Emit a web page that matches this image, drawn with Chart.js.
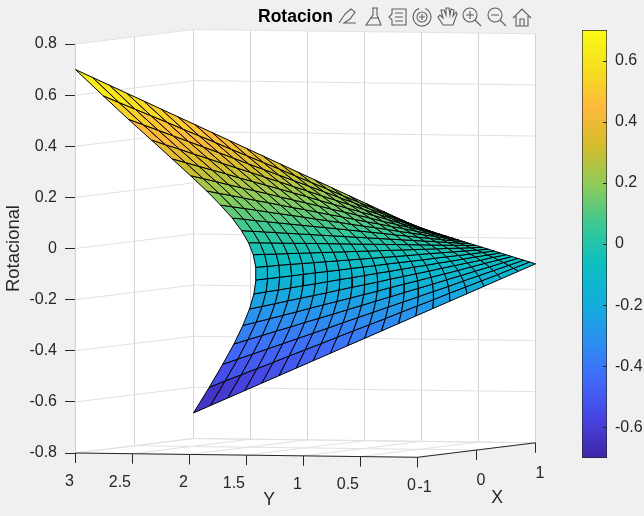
<!DOCTYPE html>
<html>
<head>
<meta charset="utf-8">
<script src="https://cdn.jsdelivr.net/npm/chart.js@4"></script>
<style>
  html, body { margin: 0; padding: 0; background: #f0f0f0; width: 644px; height: 516px; overflow: hidden; }
  canvas { position: absolute; top: 0; }
  #surf { left: 0; }
  #cbar { left: 560px; }
</style>
</head>
<body>
<canvas id="surf" width="644" height="516"></canvas>
<canvas id="cbar" width="84" height="516"></canvas>
<script>
const zTicks = [-0.8, -0.6, -0.4, -0.2, 0, 0.2, 0.4, 0.6, 0.8];
const xTicks = [-1, 0, 1];
const yTicks = [3, 2.5, 2, 1.5, 1, 0.5, 0];
const cbTicks = [-0.6, -0.4, -0.2, 0, 0.2, 0.4, 0.6];
const parula = ['#3e26a8', '#4743e0', '#4169fb', '#2c8ff0', '#12aedb', '#0cbfc0', '#3cc894', '#8ccb5a', '#d3bd2e', '#feb93c', '#f5de1f', '#f9fb15'];

// surface nodes, one list per X value
const xVals = [-1, -0.9, -0.8, -0.7, -0.6, -0.5, -0.4, -0.3, -0.2, -0.1, 0, 0.1, 0.2, 0.3, 0.4, 0.5, 0.6, 0.7, 0.8, 0.9, 1];
const ySurf = [
  [0, 0.15, 0.3, 0.45, 0.6, 0.75, 0.9, 1.05, 1.2, 1.35, 1.5, 1.65, 1.8, 1.95, 2.1, 2.25, 2.4, 2.55, 2.7, 2.85, 3],
  [0, 0.141, 0.281, 0.422, 0.562, 0.703, 0.843, 0.984, 1.124, 1.265, 1.405, 1.546, 1.686, 1.827, 1.967, 2.108, 2.248, 2.389, 2.529, 2.67, 2.81],
  [0, 0.132, 0.264, 0.396, 0.528, 0.66, 0.792, 0.924, 1.056, 1.188, 1.32, 1.452, 1.584, 1.716, 1.848, 1.98, 2.112, 2.244, 2.376, 2.508, 2.64],
  [0, 0.125, 0.249, 0.374, 0.498, 0.623, 0.747, 0.872, 0.996, 1.121, 1.245, 1.37, 1.494, 1.619, 1.743, 1.868, 1.992, 2.117, 2.241, 2.366, 2.49],
  [0, 0.118, 0.236, 0.354, 0.472, 0.59, 0.708, 0.826, 0.944, 1.062, 1.18, 1.298, 1.416, 1.534, 1.652, 1.77, 1.888, 2.006, 2.124, 2.242, 2.36],
  [0, 0.113, 0.225, 0.338, 0.45, 0.563, 0.675, 0.788, 0.9, 1.013, 1.125, 1.238, 1.35, 1.463, 1.575, 1.688, 1.8, 1.913, 2.025, 2.138, 2.25],
  [0, 0.108, 0.216, 0.324, 0.432, 0.54, 0.648, 0.756, 0.864, 0.972, 1.08, 1.188, 1.296, 1.404, 1.512, 1.62, 1.728, 1.836, 1.944, 2.052, 2.16],
  [0, 0.105, 0.209, 0.314, 0.418, 0.523, 0.627, 0.732, 0.836, 0.941, 1.045, 1.15, 1.254, 1.359, 1.463, 1.568, 1.672, 1.777, 1.881, 1.986, 2.09],
  [0, 0.102, 0.204, 0.306, 0.408, 0.51, 0.612, 0.714, 0.816, 0.918, 1.02, 1.122, 1.224, 1.326, 1.428, 1.53, 1.632, 1.734, 1.836, 1.938, 2.04],
  [0, 0.101, 0.201, 0.302, 0.402, 0.503, 0.603, 0.704, 0.804, 0.905, 1.005, 1.106, 1.206, 1.307, 1.407, 1.508, 1.608, 1.709, 1.809, 1.91, 2.01],
  [0, 0.1, 0.2, 0.3, 0.4, 0.5, 0.6, 0.7, 0.8, 0.9, 1, 1.1, 1.2, 1.3, 1.4, 1.5, 1.6, 1.7, 1.8, 1.9, 2],
  [0, 0.101, 0.201, 0.302, 0.402, 0.503, 0.603, 0.704, 0.804, 0.905, 1.005, 1.106, 1.206, 1.307, 1.407, 1.508, 1.608, 1.709, 1.809, 1.91, 2.01],
  [0, 0.102, 0.204, 0.306, 0.408, 0.51, 0.612, 0.714, 0.816, 0.918, 1.02, 1.122, 1.224, 1.326, 1.428, 1.53, 1.632, 1.734, 1.836, 1.938, 2.04],
  [0, 0.105, 0.209, 0.314, 0.418, 0.523, 0.627, 0.732, 0.836, 0.941, 1.045, 1.15, 1.254, 1.359, 1.463, 1.568, 1.672, 1.777, 1.881, 1.986, 2.09],
  [0, 0.108, 0.216, 0.324, 0.432, 0.54, 0.648, 0.756, 0.864, 0.972, 1.08, 1.188, 1.296, 1.404, 1.512, 1.62, 1.728, 1.836, 1.944, 2.052, 2.16],
  [0, 0.113, 0.225, 0.338, 0.45, 0.563, 0.675, 0.788, 0.9, 1.013, 1.125, 1.238, 1.35, 1.463, 1.575, 1.688, 1.8, 1.913, 2.025, 2.138, 2.25],
  [0, 0.118, 0.236, 0.354, 0.472, 0.59, 0.708, 0.826, 0.944, 1.062, 1.18, 1.298, 1.416, 1.534, 1.652, 1.77, 1.888, 2.006, 2.124, 2.242, 2.36],
  [0, 0.125, 0.249, 0.374, 0.498, 0.623, 0.747, 0.872, 0.996, 1.121, 1.245, 1.37, 1.494, 1.619, 1.743, 1.868, 1.992, 2.117, 2.241, 2.366, 2.49],
  [0, 0.132, 0.264, 0.396, 0.528, 0.66, 0.792, 0.924, 1.056, 1.188, 1.32, 1.452, 1.584, 1.716, 1.848, 1.98, 2.112, 2.244, 2.376, 2.508, 2.64],
  [0, 0.141, 0.281, 0.422, 0.562, 0.703, 0.843, 0.984, 1.124, 1.265, 1.405, 1.546, 1.686, 1.827, 1.967, 2.108, 2.248, 2.389, 2.529, 2.67, 2.81],
  [0, 0.15, 0.3, 0.45, 0.6, 0.75, 0.9, 1.05, 1.2, 1.35, 1.5, 1.65, 1.8, 1.95, 2.1, 2.25, 2.4, 2.55, 2.7, 2.85, 3]
];
const zSurf = [
  [0.1, 0.13, 0.16, 0.19, 0.22, 0.25, 0.28, 0.31, 0.34, 0.37, 0.4, 0.43, 0.46, 0.49, 0.52, 0.55, 0.58, 0.61, 0.64, 0.67, 0.7],
  [0.09, 0.115, 0.141, 0.166, 0.191, 0.216, 0.242, 0.267, 0.292, 0.318, 0.343, 0.368, 0.393, 0.419, 0.444, 0.469, 0.495, 0.52, 0.545, 0.57, 0.596],
  [0.08, 0.101, 0.122, 0.143, 0.164, 0.186, 0.207, 0.228, 0.249, 0.27, 0.291, 0.312, 0.333, 0.355, 0.376, 0.397, 0.418, 0.439, 0.46, 0.481, 0.502],
  [0.07, 0.087, 0.105, 0.122, 0.14, 0.157, 0.175, 0.192, 0.209, 0.227, 0.244, 0.262, 0.279, 0.297, 0.314, 0.331, 0.349, 0.366, 0.384, 0.401, 0.419],
  [0.06, 0.074, 0.088, 0.102, 0.117, 0.131, 0.145, 0.159, 0.173, 0.187, 0.202, 0.216, 0.23, 0.244, 0.258, 0.272, 0.287, 0.301, 0.315, 0.329, 0.343],
  [0.05, 0.061, 0.073, 0.084, 0.095, 0.106, 0.118, 0.129, 0.14, 0.151, 0.163, 0.174, 0.185, 0.196, 0.208, 0.219, 0.23, 0.241, 0.253, 0.264, 0.275],
  [0.04, 0.049, 0.057, 0.066, 0.075, 0.083, 0.092, 0.1, 0.109, 0.118, 0.126, 0.135, 0.144, 0.152, 0.161, 0.17, 0.178, 0.187, 0.196, 0.204, 0.213],
  [0.03, 0.036, 0.043, 0.049, 0.055, 0.061, 0.068, 0.074, 0.08, 0.086, 0.093, 0.099, 0.105, 0.112, 0.118, 0.124, 0.13, 0.137, 0.143, 0.149, 0.155],
  [0.02, 0.024, 0.028, 0.032, 0.036, 0.04, 0.044, 0.049, 0.053, 0.057, 0.061, 0.065, 0.069, 0.073, 0.077, 0.081, 0.085, 0.089, 0.093, 0.098, 0.102],
  [0.01, 0.012, 0.014, 0.016, 0.018, 0.02, 0.022, 0.024, 0.026, 0.028, 0.03, 0.032, 0.034, 0.036, 0.038, 0.04, 0.042, 0.044, 0.046, 0.048, 0.05],
  [0, 0, 0, 0, 0, 0, 0, 0, 0, 0, 0, 0, 0, 0, 0, 0, 0, 0, 0, 0, 0],
  [-0.01, -0.012, -0.014, -0.016, -0.018, -0.02, -0.022, -0.024, -0.026, -0.028, -0.03, -0.032, -0.034, -0.036, -0.038, -0.04, -0.042, -0.044, -0.046, -0.048, -0.05],
  [-0.02, -0.024, -0.028, -0.032, -0.036, -0.04, -0.044, -0.049, -0.053, -0.057, -0.061, -0.065, -0.069, -0.073, -0.077, -0.081, -0.085, -0.089, -0.093, -0.098, -0.102],
  [-0.03, -0.036, -0.043, -0.049, -0.055, -0.061, -0.068, -0.074, -0.08, -0.086, -0.093, -0.099, -0.105, -0.112, -0.118, -0.124, -0.13, -0.137, -0.143, -0.149, -0.155],
  [-0.04, -0.049, -0.057, -0.066, -0.075, -0.083, -0.092, -0.1, -0.109, -0.118, -0.126, -0.135, -0.144, -0.152, -0.161, -0.17, -0.178, -0.187, -0.196, -0.204, -0.213],
  [-0.05, -0.061, -0.073, -0.084, -0.095, -0.106, -0.118, -0.129, -0.14, -0.151, -0.163, -0.174, -0.185, -0.196, -0.208, -0.219, -0.23, -0.241, -0.253, -0.264, -0.275],
  [-0.06, -0.074, -0.088, -0.102, -0.117, -0.131, -0.145, -0.159, -0.173, -0.187, -0.202, -0.216, -0.23, -0.244, -0.258, -0.272, -0.287, -0.301, -0.315, -0.329, -0.343],
  [-0.07, -0.087, -0.105, -0.122, -0.14, -0.157, -0.175, -0.192, -0.209, -0.227, -0.244, -0.262, -0.279, -0.297, -0.314, -0.331, -0.349, -0.366, -0.384, -0.401, -0.419],
  [-0.08, -0.101, -0.122, -0.143, -0.164, -0.186, -0.207, -0.228, -0.249, -0.27, -0.291, -0.312, -0.333, -0.355, -0.376, -0.397, -0.418, -0.439, -0.46, -0.481, -0.502],
  [-0.09, -0.115, -0.141, -0.166, -0.191, -0.216, -0.242, -0.267, -0.292, -0.318, -0.343, -0.368, -0.393, -0.419, -0.444, -0.469, -0.495, -0.52, -0.545, -0.57, -0.596],
  [-0.1, -0.13, -0.16, -0.19, -0.22, -0.25, -0.28, -0.31, -0.34, -0.37, -0.4, -0.43, -0.46, -0.49, -0.52, -0.55, -0.58, -0.61, -0.64, -0.67, -0.7]
];

const FONT = '"Liberation Sans", Arial, sans-serif';
const INK = '#262626';
const GRID = '#e2e2e2';
const GRID_V = '#d2d2d2';

// camera: how far one unit of Y or X moves a point on the flat chart scales
const HY = 114, HX = 59, VY = -0.0056, VX = 0.02837;
const proj = (x, y, z) => ({ x: HY * (3 - y) + HX * (x + 1), y: z + VY * (3 - y) + VX * (x + 1) });

function parulaColor(z) {
  const f = Math.max(0, Math.min(1, (z + 0.7) / 1.4)) * (parula.length - 1);
  const i = Math.min(parula.length - 2, Math.floor(f));
  const a = parseInt(parula[i].slice(1), 16), b = parseInt(parula[i + 1].slice(1), 16), t = f - i;
  const c = s => Math.round(((a >> s) & 255) * (1 - t) + ((b >> s) & 255) * t);
  return `rgb(${c(16)},${c(8)},${c(0)})`;
}

const line = (data, color, w) => ({ data, borderColor: color, borderWidth: w, pointRadius: 0, showLine: true, fill: false, clip: false, tension: 0 });
const datasets = [];

// near cells first, chart.js paints dataset 0 last
for (let c = 0; c < xVals.length - 1; c++) {
  for (let r = 0; r < ySurf[c].length - 1; r++) {
    const corners = [[c, r], [c + 1, r], [c + 1, r + 1], [c, r + 1]];
    const pts = corners.map(([i, j]) => proj(xVals[i], ySurf[i][j], zSurf[i][j]));
    pts.push(pts[0]);
    const zm = corners.reduce((s, [i, j]) => s + zSurf[i][j], 0) / 4;
    datasets.push({ data: pts, borderColor: '#000', borderWidth: 1, backgroundColor: parulaColor(zm), pointRadius: 0, showLine: true, fill: 'shape', clip: false, tension: 0 });
  }
}

// axis lines, then the grid on the floor and back walls
datasets.push(line([proj(-1, 3, -0.8), proj(-1, 0, -0.8), proj(1, 0, -0.8)], INK, 1));
zTicks.forEach(z => datasets.push(line([proj(-1, 3, z), proj(1, 3, z), proj(1, 0, z)], GRID, 1)));
xTicks.forEach(x => {
  datasets.push(line([proj(x, 3, -0.8), proj(x, 3, 0.8)], GRID_V, 1));
  datasets.push(line([proj(x, 0, -0.8), proj(x, 3, -0.8)], GRID, 1));
});
yTicks.forEach(y => {
  datasets.push(line([proj(1, y, -0.8), proj(1, y, 0.8)], GRID_V, 1));
  datasets.push(line([proj(-1, y, -0.8), proj(1, y, -0.8)], GRID, 1));
});

const box = {
  id: 'box',
  beforeDatasetsDraw(chart) {
    // white hull of the 3d box, filler would clip it to the chart area
    const { ctx, scales } = chart;
    const hull = [proj(-1, 3, -0.8), proj(-1, 3, 0.8), proj(1, 3, 0.8), proj(1, 0, 0.8), proj(1, 0, -0.8), proj(-1, 0, -0.8)];
    ctx.save();
    ctx.fillStyle = '#fff';
    ctx.beginPath();
    hull.forEach(p => ctx.lineTo(scales.x.getPixelForValue(p.x), scales.y.getPixelForValue(p.y)));
    ctx.closePath();
    ctx.fill();
    ctx.restore();
  },
  afterDraw(chart) {
    const { ctx, scales } = chart;
    const px = p => [scales.x.getPixelForValue(p.x), scales.y.getPixelForValue(p.y)];
    ctx.save();
    ctx.font = '16px ' + FONT;
    ctx.textBaseline = 'middle';
    ctx.strokeStyle = INK;
    ctx.fillStyle = INK;
    ctx.lineWidth = 1;
    yTicks.forEach(y => {
      const [a, b] = px(proj(-1, y, -0.8));
      ctx.beginPath(); ctx.moveTo(a, b); ctx.lineTo(a, b + 10); ctx.stroke();
      ctx.textAlign = 'right';
      ctx.fillText(String(y), a - 1.5, b + 28.5);
    });
    xTicks.forEach(x => {
      const [a, b] = px(proj(x, 0, -0.8));
      ctx.beginPath(); ctx.moveTo(a, b); ctx.lineTo(a, b + 10); ctx.stroke();
      ctx.textAlign = 'left';
      ctx.fillText(String(x), a, b + 30.5);
    });
    ctx.font = '17.6px ' + FONT;
    ctx.textAlign = 'center';
    ctx.fillText('Y', 269, 500);
    ctx.fillText('X', 497, 498);
    ctx.fillStyle = '#000';
    ctx.font = 'bold 17.5px ' + FONT;
    ctx.textAlign = 'left';
    ctx.fillText('Rotacion', 258, 17);
    drawToolbar(ctx);
    ctx.restore();
  }
};

function drawToolbar(ctx) {
  ctx.strokeStyle = '#5e5e5e';
  ctx.lineWidth = 1.1;
  const stroke = f => { ctx.beginPath(); f(); ctx.stroke(); };
  // pen
  stroke(() => { ctx.moveTo(339, 23); ctx.lineTo(345, 14); ctx.lineTo(351, 9); ctx.lineTo(355, 12); ctx.lineTo(350, 19); ctx.lineTo(344, 23); ctx.lineTo(356, 23); });
  // brush
  stroke(() => { ctx.moveTo(372, 8); ctx.lineTo(378, 8); ctx.moveTo(373, 8); ctx.lineTo(373, 15); ctx.lineTo(366, 25); ctx.lineTo(381, 25); ctx.lineTo(377, 15); ctx.lineTo(377, 8); ctx.moveTo(370, 18); ctx.lineTo(379, 18); });
  // legend
  stroke(() => { ctx.moveTo(392, 9); ctx.lineTo(406, 9); ctx.lineTo(406, 25); ctx.lineTo(392, 25); ctx.lineTo(392, 20); ctx.lineTo(389, 17); ctx.lineTo(392, 14); ctx.closePath(); ctx.moveTo(395, 13); ctx.lineTo(403, 13); ctx.moveTo(395, 17); ctx.lineTo(403, 17); ctx.moveTo(395, 21); ctx.lineTo(403, 21); });
  // rotate
  stroke(() => { ctx.arc(422, 17, 9, -1.2, 4.4); });
  stroke(() => { ctx.arc(422, 17, 5, 0, 6.3); });
  stroke(() => { ctx.moveTo(419, 17); ctx.lineTo(425, 17); ctx.moveTo(422, 14); ctx.lineTo(422, 20); });
  // hand
  stroke(() => { ctx.moveTo(443, 25); ctx.lineTo(438, 17); ctx.lineTo(440, 15); ctx.lineTo(443, 18); ctx.lineTo(441, 10); ctx.lineTo(444, 10); ctx.lineTo(446, 15); ctx.lineTo(446, 8); ctx.lineTo(449, 8); ctx.lineTo(450, 15); ctx.lineTo(451, 9); ctx.lineTo(454, 10); ctx.lineTo(453, 16); ctx.lineTo(456, 12); ctx.lineTo(457, 14); ctx.lineTo(453, 25); ctx.closePath(); });
  // zoom in
  stroke(() => { ctx.arc(470, 15, 7, 0, 6.3); });
  stroke(() => { ctx.moveTo(475, 20); ctx.lineTo(481, 26); ctx.moveTo(466, 15); ctx.lineTo(474, 15); ctx.moveTo(470, 11); ctx.lineTo(470, 19); });
  // zoom out
  stroke(() => { ctx.arc(495, 15, 7, 0, 6.3); });
  stroke(() => { ctx.moveTo(500, 20); ctx.lineTo(506, 26); ctx.moveTo(491, 15); ctx.lineTo(499, 15); });
  // home
  stroke(() => { ctx.moveTo(513, 18); ctx.lineTo(522, 9); ctx.lineTo(531, 18); ctx.moveTo(516, 16); ctx.lineTo(516, 26); ctx.lineTo(528, 26); ctx.lineTo(528, 16); ctx.moveTo(520, 26); ctx.lineTo(520, 19); ctx.lineTo(524, 19); ctx.lineTo(524, 26); });
}

new Chart(document.getElementById('surf'), {
  type: 'scatter',
  data: { datasets },
  plugins: [box],
  options: {
    responsive: false,
    animation: false,
    events: [],
    layout: { padding: { top: 44, right: 109, bottom: 63, left: 0 } },
    plugins: { legend: { display: false }, tooltip: { enabled: false } },
    scales: {
      x: { type: 'linear', display: false, min: -0.5, max: 459.5 },
      y: {
        min: -0.8, max: 0.8,
        afterBuildTicks: s => { s.ticks = zTicks.map(value => ({ value })); },
        afterFit: s => { s.width = 75; },
        grid: { display: true, drawOnChartArea: false, tickLength: 10, tickColor: INK, tickWidth: 1 },
        border: { display: true, color: INK, width: 1 },
        ticks: { color: INK, font: { family: FONT, size: 16 }, padding: 8, callback: v => String(v) },
        title: { display: true, text: 'Rotacional', color: INK, font: { family: FONT, size: 18.4 }, padding: { top: 3, bottom: 0 } }
      }
    }
  }
});

const innerTicks = {
  id: 'innerTicks',
  afterDraw(chart) {
    const { ctx, scales, chartArea } = chart;
    ctx.save();
    ctx.strokeStyle = INK;
    ctx.lineWidth = 1;
    cbTicks.forEach(v => {
      const b = Math.round(scales.y.getPixelForValue(v)) + 0.5;
      ctx.beginPath(); ctx.moveTo(chartArea.right - 4, b); ctx.lineTo(chartArea.right, b); ctx.stroke();
    });
    ctx.restore();
  }
};

new Chart(document.getElementById('cbar'), {
  type: 'bar',
  data: {
    labels: ['Rotacion'],
    datasets: [{
      data: [[-0.7, 0.7]],
      barPercentage: 1,
      categoryPercentage: 1,
      borderColor: INK,
      borderWidth: 1,
      borderSkipped: false,
      backgroundColor: c => {
        const a = c.chart.chartArea;
        if (!a) return parula[0];
        const g = c.chart.ctx.createLinearGradient(0, a.bottom, 0, a.top);
        parula.forEach((col, i) => g.addColorStop(i / (parula.length - 1), col));
        return g;
      }
    }]
  },
  plugins: [innerTicks],
  options: {
    responsive: false,
    animation: false,
    events: [],
    layout: { padding: { top: 30, bottom: 58, left: 22, right: 0 } },
    plugins: { legend: { display: false }, tooltip: { enabled: false } },
    scales: {
      x: { display: false },
      y: {
        position: 'right',
        min: -0.7, max: 0.7,
        afterBuildTicks: s => { s.ticks = cbTicks.map(value => ({ value })); },
        afterFit: s => { s.width = 37; },
        grid: { display: false },
        border: { display: false },
        ticks: { color: INK, font: { family: FONT, size: 16 }, padding: 0, callback: v => String(v) }
      }
    }
  }
});
</script>
</body>
</html>
